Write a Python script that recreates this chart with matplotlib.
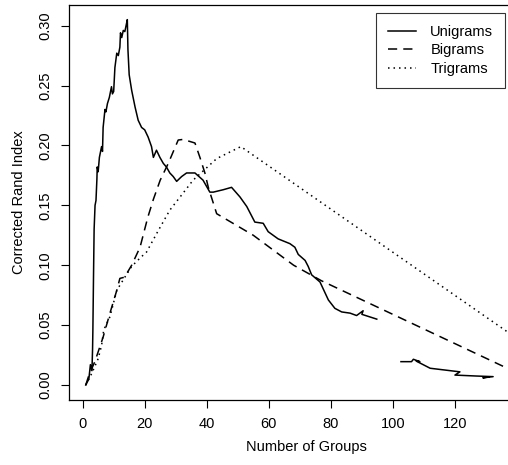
import numpy as np
import matplotlib
matplotlib.use('Agg')
import matplotlib.pyplot as plt

plt.rcParams['font.family'] = ['Liberation Sans', 'DejaVu Sans']

# Unigrams: number of groups vs corrected Rand index (x not monotonic, gap = NaN)
uni_x = [1, 2, 2.5, 3, 3.2, 3.3, 3.5, 3.7, 4, 4.3, 4.6, 4.7, 5, 5.4, 6.1, 6.4, 6.6, 7.2, 7.5, 8,
         8.6, 9.3, 9.6, 10, 10.4, 11, 11.5, 12, 12.2, 12.6, 13.1, 13.6, 14, 14.4, 14.6, 15, 15.8,
         16.9, 17.9, 19, 20, 21.1, 22.2, 22.8, 23.8, 24.9, 26, 27, 28.1, 29.2, 30.3, 31.9, 33.5,
         36.2, 38.8, 41, 42.1, 45.3, 48, 50.7, 52.9, 55.5, 58.2, 59.8, 63, 66.8, 68.4, 69.5, 71.7,
         72.7, 73.8, 76.5, 79.2, 81.3, 83.5, 86.2, 88.3, 90.4, 90.0, 94.8,
         np.nan,
         102.6, 106, 106.6, 108.7, 107.5, 112, 118.4, 121.6, 120, 127, 132.3, 129, 131]
uni_y = [0.0, 0.005, 0.017, 0.012, 0.03, 0.046, 0.09, 0.13, 0.15, 0.154, 0.172, 0.182, 0.178, 0.19,
         0.199, 0.195, 0.215, 0.23, 0.228, 0.235, 0.24, 0.249, 0.243, 0.245, 0.265, 0.277, 0.275,
         0.282, 0.294, 0.29, 0.296, 0.295, 0.3, 0.305, 0.28, 0.259, 0.246, 0.232, 0.221, 0.215,
         0.213, 0.207, 0.199, 0.19, 0.196, 0.19, 0.185, 0.182, 0.177, 0.174, 0.17, 0.174, 0.177,
         0.177, 0.171, 0.161, 0.161, 0.163, 0.165, 0.157, 0.149, 0.136, 0.135, 0.128, 0.122, 0.118,
         0.115, 0.109, 0.104, 0.099, 0.092, 0.086, 0.071, 0.064, 0.061, 0.06, 0.058, 0.062, 0.059,
         0.055,
         np.nan,
         0.0195, 0.0195, 0.0215, 0.0195, 0.02, 0.014, 0.012, 0.011, 0.0083, 0.0075, 0.007, 0.006,
         0.0068]

# Bigrams
bi_x = [1, 2, 4, 6.6, 8.8, 11, 12, 13.5, 15.8, 18.5, 21, 22.8, 25, 27.6, 30.8, 32.4, 36.2, 37.8,
        39.4, 40.5, 43.2, 55, 68, 77, 143]
bi_y = [0.0, 0.008, 0.02, 0.04, 0.06, 0.079, 0.089, 0.09, 0.1, 0.115, 0.14, 0.155, 0.171, 0.185,
        0.2045, 0.205, 0.202, 0.19, 0.177, 0.165, 0.143, 0.125, 0.1, 0.087, 0.0065]

# Trigrams
tri_x = [1, 3, 5, 6.1, 6.8, 8.8, 11, 13.6, 15.8, 18.5, 20.6, 24.4, 28.1, 31.9, 35.6, 43.2, 51, 143]
tri_y = [0.0, 0.01, 0.022, 0.033, 0.046, 0.057, 0.079, 0.09, 0.099, 0.106, 0.111, 0.129, 0.146,
         0.1586, 0.171, 0.189, 0.199, 0.0334]

x_ticks = [0, 20, 40, 60, 80, 100, 120]
y_ticks = [0.00, 0.05, 0.10, 0.15, 0.20, 0.25, 0.30]

fs = 10.5

fig = plt.figure(figsize=(5.08, 4.65), dpi=100)
# plot region runs past the right edge of the picture (R default 4% padding on x up to 143)
ax_left, ax_right = 69.3, 544.0
ax = fig.add_axes([ax_left / 508, 65 / 465, (ax_right - ax_left) / 508, 395 / 465])

lw = 1.1
ax.plot(uni_x, uni_y, color='black', linewidth=lw, linestyle='-', label='Unigrams')
ax.plot(bi_x, bi_y, color='black', linewidth=lw, linestyle=(0, (6, 4)), label='Bigrams')
ax.plot(tri_x, tri_y, color='black', linewidth=lw, linestyle=(0, (1, 2.6)), label='Trigrams')

ax.set_xlim(-4.3, 148.7)
ax.set_ylim(-0.0125, 0.3172)

ax.set_xticks(x_ticks)
ax.set_xticklabels([str(t) for t in x_ticks], fontsize=fs)
ax.set_yticks(y_ticks)
ax.set_yticklabels(['%.2f' % t for t in y_ticks], fontsize=fs, rotation=90, va='center')
ax.tick_params(axis='x', direction='out', length=6, width=0.8, pad=6)
ax.tick_params(axis='y', direction='out', length=6, width=0.8, pad=6)

for s in ax.spines.values():
    s.set_linewidth(0.9)

ax.set_xlabel('Number of Groups', fontsize=fs, labelpad=7)
ax.set_ylabel('Corrected Rand Index', fontsize=fs, labelpad=9)

w = ax_right - ax_left
leg = ax.legend(loc='upper right', bbox_to_anchor=((505 - ax_left) / w, (400 - 13) / 395),
                fontsize=fs, frameon=True, fancybox=False, edgecolor='black',
                handlelength=1.9, borderpad=0.8, labelspacing=0.32, handletextpad=1.0,
                borderaxespad=0)
leg.get_frame().set_linewidth(0.8)

fig.savefig('out.png', dpi=100)
